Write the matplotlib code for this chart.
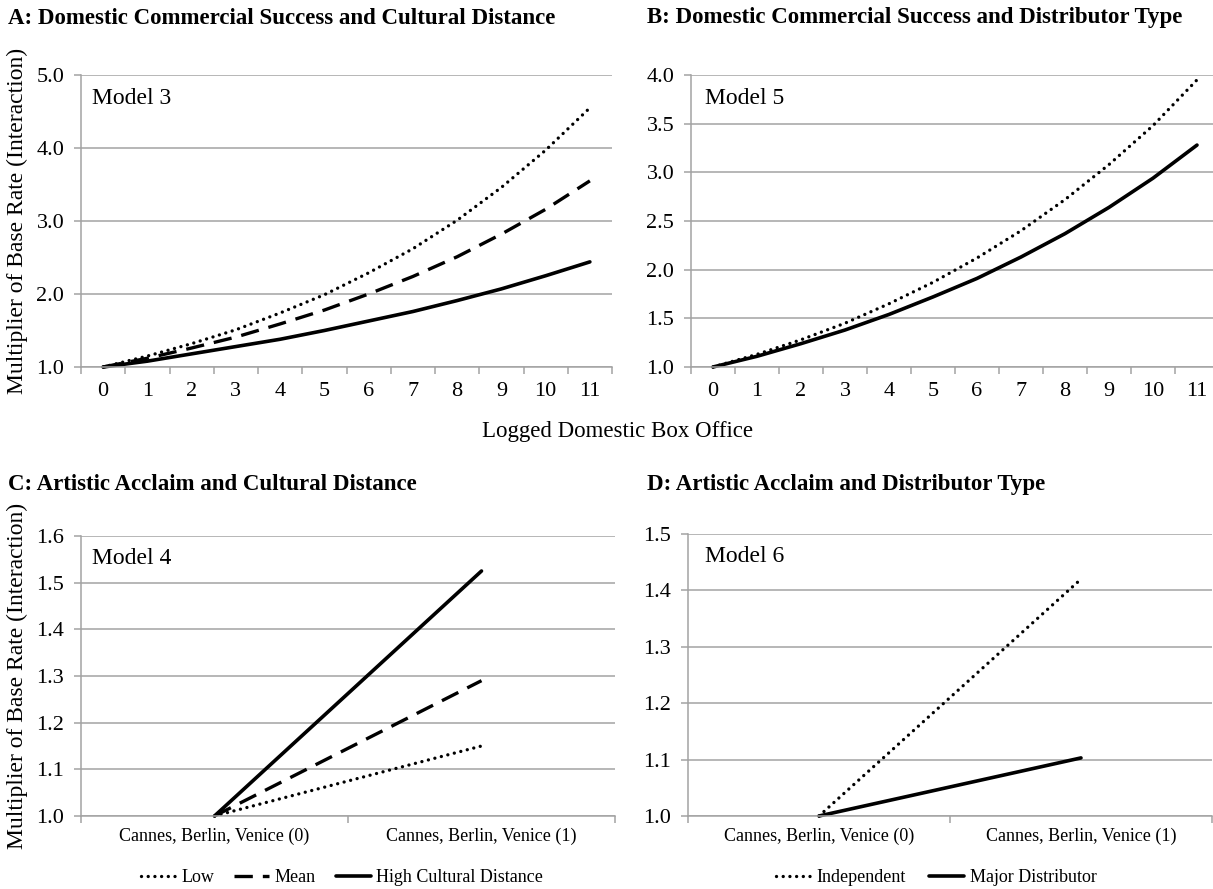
import matplotlib
matplotlib.use("Agg")
import matplotlib.pyplot as plt
import numpy as np

plt.rcParams['font.family'] = ['Liberation Serif', 'DejaVu Serif']

# Data
box_office = list(range(12))
a_low = [1.00, 1.15, 1.32, 1.51, 1.74, 1.99, 2.29, 2.62, 3.01, 3.46, 3.97, 4.55]
a_mean = [1.00, 1.12, 1.26, 1.41, 1.59, 1.78, 2.00, 2.24, 2.51, 2.82, 3.16, 3.55]
a_high = [1.00, 1.08, 1.18, 1.28, 1.38, 1.50, 1.63, 1.76, 1.91, 2.07, 2.25, 2.44]

b_indep = [1.00, 1.13, 1.28, 1.45, 1.65, 1.87, 2.12, 2.40, 2.72, 3.08, 3.48, 3.95]
b_major = [1.00, 1.11, 1.24, 1.38, 1.54, 1.72, 1.91, 2.13, 2.37, 2.64, 2.94, 3.28]

festival = ['Cannes, Berlin, Venice (0)', 'Cannes, Berlin, Venice (1)']
c_low = [1.00, 1.15]
c_mean = [1.00, 1.29]
c_high = [1.00, 1.525]

d_indep = [1.00, 1.42]
d_major = [1.00, 1.103]

titles = ['A: Domestic Commercial Success and Cultural Distance',
          'B: Domestic Commercial Success and Distributor Type',
          'C: Artistic Acclaim and Cultural Distance',
          'D: Artistic Acclaim and Distributor Type']
models = ['Model 3', 'Model 5', 'Model 4', 'Model 6']

GRID = '#a3a3a3'
DOT = dict(color='black', lw=2.4, linestyle=(0, (0.01, 2.0)), dash_capstyle='round')
DASH = dict(color='black', lw=2.4, linestyle=(0, (5.5, 3.0)))
SOLID = dict(color='black', lw=2.6, solid_capstyle='round')

W, H = 1213, 889
fig = plt.figure(figsize=(W / 100, H / 100), dpi=100)


def px_axes(l, t, r, b):
    return fig.add_axes([l / W, 1 - b / H, (r - l) / W, (b - t) / H])


axA = px_axes(81, 75, 612, 367)
axB = px_axes(691, 75, 1219, 367)   # runs off the right edge, as in the source
axC = px_axes(81, 536, 615, 816)
axD = px_axes(688, 534, 1212, 816)


def style(ax, ncat, ylim, yticks, labels, lab_size, lab_pad):
    ax.set_xlim(-0.5, ncat - 0.5)
    ax.set_ylim(*ylim)
    ax.set_yticks(yticks)
    ax.set_yticklabels(['%.1f' % v for v in yticks])
    ax.set_xticks(range(ncat))
    ax.set_xticklabels(labels)
    ax.set_xticks(np.arange(-0.5, ncat, 1.0), minor=True)
    ax.tick_params(axis='x', which='major', length=0, labelsize=lab_size, pad=lab_pad)
    ax.tick_params(axis='x', which='minor', length=5, color=GRID, width=1.1, direction='out')
    ax.tick_params(axis='y', length=5, color=GRID, width=1.1, labelsize=16, pad=7)
    ax.grid(axis='y', color=GRID, lw=1.1)
    ax.set_axisbelow(True)
    for s in ['top', 'right']:
        ax.spines[s].set_visible(False)
    for s in ['left', 'bottom']:
        ax.spines[s].set_color(GRID)
        ax.spines[s].set_linewidth(1.1)


style(axA, 12, (1.0, 5.0), [1.0, 2.0, 3.0, 4.0, 5.0], [str(v) for v in box_office], 16, 10.5)
style(axB, 12, (1.0, 4.0), [1.0, 1.5, 2.0, 2.5, 3.0, 3.5, 4.0], [str(v) for v in box_office], 16, 10.5)
style(axC, 2, (1.0, 1.6), [1.0, 1.1, 1.2, 1.3, 1.4, 1.5, 1.6], festival, 13, 8.5)
style(axD, 2, (1.0, 1.5), [1.0, 1.1, 1.2, 1.3, 1.4, 1.5], festival, 13, 8.5)

axA.plot(box_office, a_low, **DOT)
axA.plot(box_office, a_mean, **DASH)
axA.plot(box_office, a_high, **SOLID)

axB.plot(box_office, b_indep, **DOT)
axB.plot(box_office, b_major, **SOLID)

x2 = range(len(festival))
lc1, = axC.plot(x2, c_low, label='Low', **DOT)
lc2, = axC.plot(x2, c_mean, label='Mean', **DASH)
lc3, = axC.plot(x2, c_high, label='High Cultural Distance', **SOLID)

ld1, = axD.plot(x2, d_indep, label='Independent', **DOT)
ld2, = axD.plot(x2, d_major, label='Major Distributor', **SOLID)

for ax in [axA, axB, axC, axD]:
    for ln in ax.get_lines():
        ln.set_clip_on(False)

# titles and model tags
title_pos = [(8, 18), (647, 18), (8, 485), (647, 485)]
for (x, y), t in zip(title_pos, titles):
    fig.text(x / W, 1 - y / H, t, fontsize=16.5, fontweight='bold', va='center', ha='left')
model_pos = [(92, 99), (705, 99), (92, 558), (705, 557)]
for (x, y), m in zip(model_pos, models):
    fig.text(x / W, 1 - y / H, m, fontsize=17, va='center', ha='left')

fig.text(17 / W, 1 - 221 / H, 'Multiplier of Base Rate (Interaction)', rotation=90,
         fontsize=17, va='center', ha='center')
fig.text(17 / W, 1 - 676 / H, 'Multiplier of Base Rate (Interaction)', rotation=90,
         fontsize=17, va='center', ha='center')
fig.text(618 / W, 1 - 432 / H, 'Logged Domestic Box Office', fontsize=16.5, va='center', ha='center')

fig.legend(handles=[lc1, lc2, lc3], loc='center', bbox_to_anchor=(342 / W, 1 - 878 / H),
           ncol=3, frameon=False, fontsize=13, handlelength=1.95, handletextpad=0.3,
           columnspacing=1.1)
fig.legend(handles=[ld1, ld2], loc='center', bbox_to_anchor=(936 / W, 1 - 878 / H),
           ncol=2, frameon=False, fontsize=13, handlelength=1.95, handletextpad=0.3,
           columnspacing=1.3)

fig.savefig('out.png', dpi=100, facecolor='white')
